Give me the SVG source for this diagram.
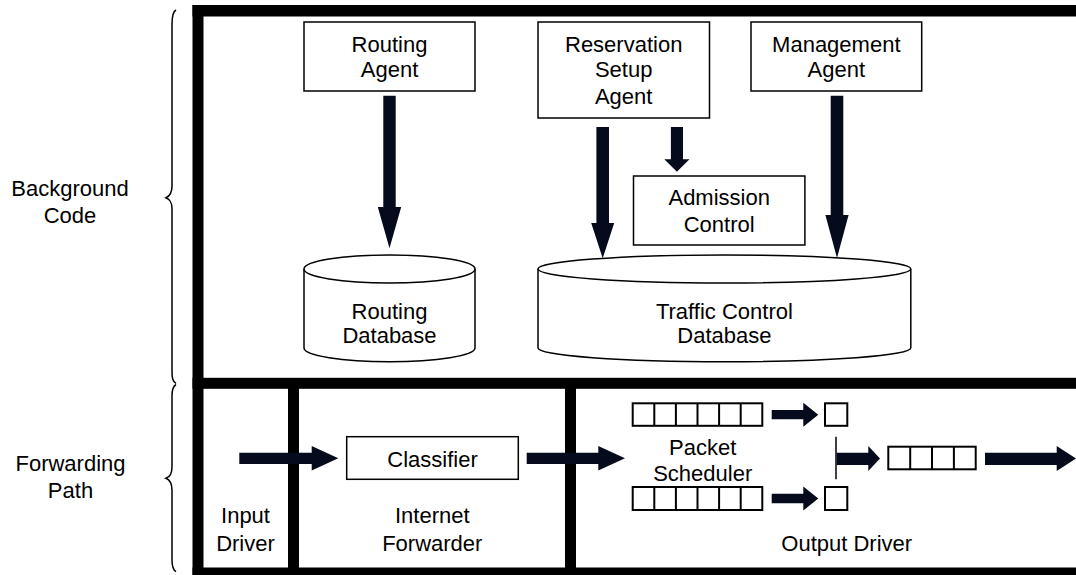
<svg xmlns="http://www.w3.org/2000/svg" width="1076" height="575" viewBox="0 0 1076 575">
<style>
.frame{fill:#000}
.box{fill:#fff;stroke:#000;stroke-width:1.5}
.q{fill:#fff;stroke:#000;stroke-width:2}
.qd{fill:none;stroke:#000;stroke-width:2}
.thin{fill:none;stroke:#000;stroke-width:1.5}
.arr{fill:#050b1c}
.t{font-family:"Liberation Sans",Arial,sans-serif;font-size:22px;fill:#000;text-anchor:middle}
</style>
<rect width="1076" height="575" fill="#fff"/>

<g id="frame">
  <rect class="frame" x="192.5" y="5" width="884" height="11.5"/>
  <rect class="frame" x="192.5" y="5" width="11" height="575"/>
  <rect class="frame" x="192.5" y="377.8" width="884" height="11"/>
  <rect class="frame" x="192.5" y="567.5" width="884" height="11"/>
  <rect class="frame" x="288" y="380" width="11" height="195"/>
  <rect class="frame" x="565" y="380" width="11" height="195"/>
</g>

<g id="brace-background">
  <path class="thin" d="M176,10 C172.5,12 172,17 172,24 L172,186 C172,193 170,196 166,197.7 C170,199.5 172,202 172,209 L172,371 C172,378 172.5,381 176,383.5"/>
  <text class="t" x="70" y="196">Background</text>
  <text class="t" x="70" y="222.7">Code</text>
</g>
<g id="brace-forwarding">
  <path class="thin" d="M176,384.5 C172.5,386.5 172,390 172,396 L172,467 C172,474 170,477 166,478.3 C170,480 172,483 172,490 L172,560 C172,566 172.5,569.5 176,571.7"/>
  <text class="t" x="70.5" y="471">Forwarding</text>
  <text class="t" x="70.5" y="498.3">Path</text>
</g>

<g id="routing-agent">
  <rect class="box" x="304" y="22" width="171" height="69"/>
  <text class="t" x="389.5" y="51.7">Routing</text>
  <text class="t" x="389.5" y="77.3">Agent</text>
</g>
<g id="reservation-setup-agent">
  <rect class="box" x="538" y="22" width="171.5" height="96"/>
  <text class="t" x="623.7" y="51.7">Reservation</text>
  <text class="t" x="623.7" y="77.3">Setup</text>
  <text class="t" x="623.7" y="104">Agent</text>
</g>
<g id="management-agent">
  <rect class="box" x="751" y="22" width="170.7" height="69"/>
  <text class="t" x="836.3" y="51.7">Management</text>
  <text class="t" x="836.3" y="77.3">Agent</text>
</g>
<g id="admission-control">
  <rect class="box" x="633.5" y="176" width="171.4" height="69"/>
  <text class="t" x="719.2" y="205">Admission</text>
  <text class="t" x="719.2" y="232.3">Control</text>
</g>
<g id="routing-database">
  <path class="box" d="M304,269 L304,348 A85.5,13.7 0 0 0 475,348 L475,269"/>
  <ellipse class="box" cx="389.5" cy="269" rx="85.5" ry="14"/>
  <text class="t" x="389.5" y="318.5">Routing</text>
  <text class="t" x="389.5" y="343">Database</text>
</g>
<g id="traffic-control-database">
  <path class="box" d="M538,269 L538,348 A186.4,13.7 0 0 0 910.8,348 L910.8,269"/>
  <ellipse class="box" cx="724.4" cy="269" rx="186.4" ry="14"/>
  <text class="t" x="724.4" y="318.5">Traffic Control</text>
  <text class="t" x="724.4" y="343">Database</text>
</g>

<g id="classifier">
  <rect class="box" x="346.7" y="436.7" width="171.6" height="42.6"/>
  <text class="t" x="432.5" y="467">Classifier</text>
</g>
<g id="input-driver">
  <text class="t" x="245.5" y="523.3">Input</text>
  <text class="t" x="245.5" y="550.7">Driver</text>
</g>
<g id="internet-forwarder">
  <text class="t" x="432.3" y="523.3">Internet</text>
  <text class="t" x="432.3" y="550.7">Forwarder</text>
</g>
<g id="packet-scheduler">
  <text class="t" x="702.7" y="455">Packet</text>
  <text class="t" x="702.7" y="481">Scheduler</text>
  <g id="queue-top">
    <rect class="q" x="632.7" y="403.3" width="129.6" height="22.5"/>
    <path class="qd" d="M654.3,403.3V425.8M675.9,403.3V425.8M697.5,403.3V425.8M719.1,403.3V425.8M740.7,403.3V425.8"/>
    <rect class="q" x="825" y="403.3" width="22.3" height="22.5"/>
  </g>
  <g id="queue-bottom">
    <rect class="q" x="632.7" y="487" width="129.6" height="23"/>
    <path class="qd" d="M654.3,487V510M675.9,487V510M697.5,487V510M719.1,487V510M740.7,487V510"/>
    <rect class="q" x="825" y="487" width="22.3" height="23"/>
  </g>
  <line class="thin" x1="836" y1="436.7" x2="836" y2="479.3"/>
</g>
<g id="output-queue">
  <rect class="q" x="888.3" y="446.7" width="87.4" height="22.6"/>
  <path class="qd" d="M910.2,446.7V469.3M932,446.7V469.3M953.9,446.7V469.3"/>
</g>
<g id="output-driver">
  <text class="t" x="846.7" y="550.7">Output Driver</text>
</g>

<g id="connectors">
  <polygon class="arr" points="383.3,95.7 395.7,95.7 395.7,207 401.2,207 389.5,248.3 377.8,207 383.3,207"/>
  <polygon class="arr" points="596.4,127 609,127 609,223 614.2,223 602.7,258.3 591.2,223 596.4,223"/>
  <polygon class="arr" points="670.9,127 683,127 683,159.3 689.5,159.3 676.9,171.7 664.3,159.3 670.9,159.3"/>
  <polygon class="arr" points="830.7,95.7 843.3,95.7 843.3,215 848.6,215 837,258 825.4,215 830.7,215"/>
  <polygon class="arr" points="239.3,452.7 311.7,452.7 311.7,446 338.3,458.3 311.7,470.6 311.7,464 239.3,464"/>
  <polygon class="arr" points="526.7,452.7 598.3,452.7 598.3,446 625,458.3 598.3,470.6 598.3,464 526.7,464"/>
  <polygon class="arr" points="771.7,410 803.3,410 803.3,402.7 818.3,414.7 803.3,426.7 803.3,419.3 771.7,419.3"/>
  <polygon class="arr" points="771.7,493.8 803.3,493.8 803.3,486.5 818.3,498.5 803.3,510.5 803.3,503.2 771.7,503.2"/>
  <polygon class="arr" points="836.7,452.7 868.3,452.7 868.3,446 880,458.5 868.3,471 868.3,465 836.7,465"/>
  <polygon class="arr" points="985,452.7 1056.7,452.7 1056.7,446 1076,458.5 1056.7,471 1056.7,465 985,465"/>
</g>
</svg>
